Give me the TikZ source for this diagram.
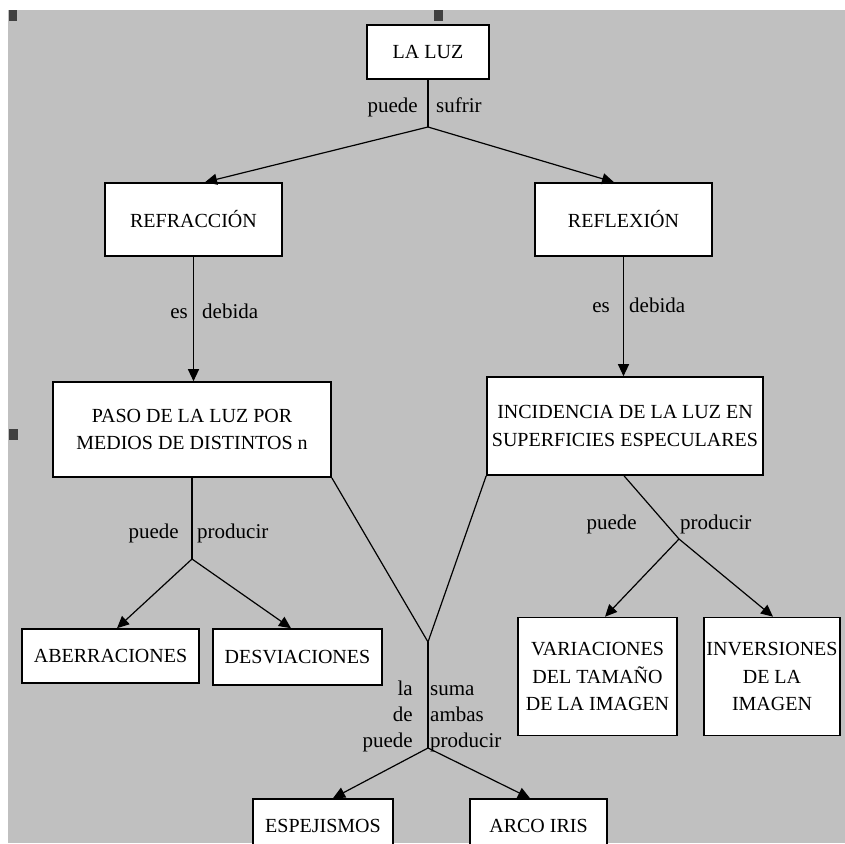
\documentclass[tikz,border=0pt]{standalone}
\usepackage{fontspec}
\setmainfont{Liberation Serif}
\usetikzlibrary{arrows.meta}
\definecolor{panel}{HTML}{C0C0C0}
\definecolor{handle}{HTML}{404040}
\begin{document}
\begin{tikzpicture}[x=1pt,y=-1pt,
  concept/.style={draw=black, line width=1.6pt, fill=white, align=center,
    inner sep=0pt, font=\fontsize{20}{27.5}\selectfont},
  link/.style={line width=1.2pt, black},
  arrowlink/.style={link, -{Triangle[length=12pt,width=11pt]}},
  linklabel/.style={font=\fontsize{21}{26}\selectfont, inner sep=1pt},
]
% canvas and grey panel
\useasboundingbox (0,0) rectangle (845,843);
\clip (0,0) rectangle (845,843);
\fill[white] (0,0) rectangle (845,843);
\fill[panel] (8,10) rectangle (845,843);
% selection handles
\fill[handle] (9,10) rectangle (17,21);
\fill[handle] (434,10) rectangle (443,21);
\fill[handle] (9,429) rectangle (18,440);

% concepts
\node[concept, minimum width=122pt, minimum height=54pt] (luz) at (428,52) {LA LUZ};
\node[concept, minimum width=177pt, minimum height=73pt] (refr) at (193.5,219.5) {REFRACCIÓN};
\node[concept, minimum width=177pt, minimum height=73pt] (refl) at (623.5,219.5) {REFLEXIÓN};
\node[concept, minimum width=278pt, minimum height=95pt] (paso) at (192,429.5)
  {PASO DE LA LUZ POR\\MEDIOS DE DISTINTOS n};
\node[concept, minimum width=276pt, minimum height=98pt] (inc) at (625,426)
  {INCIDENCIA DE LA LUZ EN\\SUPERFICIES ESPECULARES};
\node[concept, minimum width=177pt, minimum height=54pt] (aber) at (110.5,656) {ABERRACIONES};
\node[concept, minimum width=169pt, minimum height=56pt] (desv) at (297.5,657) {DESVIACIONES};
\node[concept, minimum width=159pt, minimum height=118pt] (var) at (597.5,676.5)
  {VARIACIONES\\DEL TAMAÑO\\DE LA IMAGEN};
\node[concept, minimum width=136pt, minimum height=118pt] (inv) at (772,676.5)
  {INVERSIONES\\DE LA\\IMAGEN};
\node[concept, minimum width=140pt, minimum height=54pt] (esp) at (323,826) {ESPEJISMOS};
\node[concept, minimum width=137pt, minimum height=54pt] (arco) at (538.5,826) {ARCO IRIS};

% branching points
\coordinate (j1) at (428,127);
\coordinate (j2) at (192,559);
\coordinate (j3) at (679,539);
\coordinate (j4) at (428,642);
\coordinate (j5) at (428,748);

% connectors
\draw[link] (luz.south) -- (j1);
\draw[arrowlink] (j1) -- ([xshift=11.5pt]refr.north);
\draw[arrowlink] (j1) -- ([xshift=-9.5pt]refl.north);
\draw[arrowlink] (refr.south) -- (refr.south |- paso.north);
\draw[arrowlink] (refl.south) -- (refl.south |- inc.north);
\draw[link] (paso.south) -- (j2);
\draw[arrowlink] (j2) -- ([xshift=6.5pt]aber.north);
\draw[arrowlink] (j2) -- ([xshift=-6.5pt]desv.north);
\draw[link] ([xshift=-1pt]inc.south) -- (j3);
\draw[arrowlink] (j3) -- ([xshift=7.5pt]var.north);
\draw[arrowlink] (j3) -- ([xshift=1pt]inv.north);
\draw[link] (paso.south east) -- (j4);
\draw[link] (inc.south west) -- (j4);
\draw[link] (j4) -- (j5);
\draw[arrowlink] (j5) -- ([xshift=10pt]esp.north);
\draw[arrowlink] (j5) -- ([xshift=-8.5pt]arco.north);

% link phrases, placed by their (last) baselines
\node[linklabel, anchor=base east] (t1a) at (419,112) {puede};
\node[linklabel, anchor=base west] (t1b) at (435,112) {sufrir};
\node[linklabel, anchor=base east] (t2a) at (189,318) {es};
\node[linklabel, anchor=base west] (t2b) at (201,318) {debida};
\node[linklabel, anchor=base east] (t3a) at (611,312) {es};
\node[linklabel, anchor=base west] (t3b) at (628,312) {debida};
\node[linklabel, anchor=base east] (t4a) at (180,538) {puede};
\node[linklabel, anchor=base west] (t4b) at (196,538) {producir};
\node[linklabel, anchor=base east] (t5a) at (638,529) {puede};
\node[linklabel, anchor=base west] (t5b) at (679,529) {producir};
\node[linklabel, anchor=base east, align=right] (t6a) at (414,747) {la\\de\\puede};
\node[linklabel, anchor=base west, align=left] (t6b) at (429,747) {suma\\ambas\\producir};
\end{tikzpicture}
\end{document}
